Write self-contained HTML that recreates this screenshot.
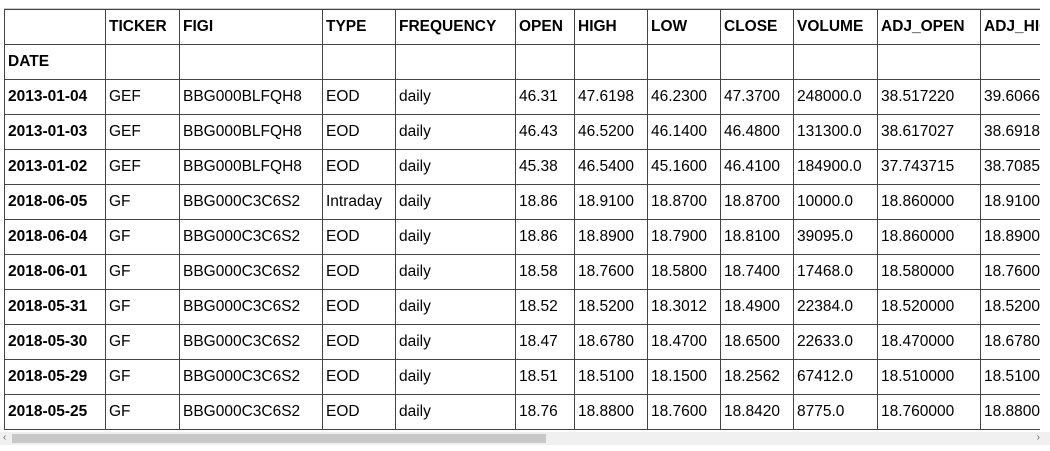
<!DOCTYPE html>
<html><head><meta charset="utf-8"><style>
body{margin:0;background:#fff;width:1050px;height:451px;overflow:hidden;font-family:"Liberation Sans",Arial,sans-serif;}
#wrap{position:absolute;left:4px;top:8px;width:1036px;height:424px;overflow:hidden;border-top:1px solid #ccc;}
table{border-collapse:collapse;table-layout:fixed;width:1076px;font-size:15.5px;color:#000;}
td,th{border:1px solid #444;height:34px;padding:0 3px;white-space:nowrap;overflow:hidden;text-align:left;}
th{font-weight:bold;}
#sb{position:absolute;left:0;top:432px;width:1050px;height:13px;background:#f0f0f0;}
#thumb{position:absolute;left:12px;top:2px;width:534px;height:9px;background:#c8c8c8;}
.arr{position:absolute;top:0;font-size:10px;color:#666;}
</style></head><body>
<div id="wrap">
<table>
<colgroup><col style="width:101px"><col style="width:74px"><col style="width:143px"><col style="width:73px"><col style="width:120px"><col style="width:59px"><col style="width:73px"><col style="width:73px"><col style="width:73px"><col style="width:84px"><col style="width:103px"><col style="width:100px"></colgroup>
<tr><th></th><th>TICKER</th><th>FIGI</th><th>TYPE</th><th>FREQUENCY</th><th>OPEN</th><th>HIGH</th><th>LOW</th><th>CLOSE</th><th>VOLUME</th><th>ADJ_OPEN</th><th>ADJ_HIGH</th></tr>
<tr><th>DATE</th><td></td><td></td><td></td><td></td><td></td><td></td><td></td><td></td><td></td><td></td><td></td></tr>
<tr><th>2013-01-04</th><td>GEF</td><td>BBG000BLFQH8</td><td>EOD</td><td>daily</td><td>46.31</td><td>47.6198</td><td>46.2300</td><td>47.3700</td><td>248000.0</td><td>38.517220</td><td>39.606600</td></tr>
<tr><th>2013-01-03</th><td>GEF</td><td>BBG000BLFQH8</td><td>EOD</td><td>daily</td><td>46.43</td><td>46.5200</td><td>46.1400</td><td>46.4800</td><td>131300.0</td><td>38.617027</td><td>38.691800</td></tr>
<tr><th>2013-01-02</th><td>GEF</td><td>BBG000BLFQH8</td><td>EOD</td><td>daily</td><td>45.38</td><td>46.5400</td><td>45.1600</td><td>46.4100</td><td>184900.0</td><td>37.743715</td><td>38.708500</td></tr>
<tr><th>2018-06-05</th><td>GF</td><td>BBG000C3C6S2</td><td>Intraday</td><td>daily</td><td>18.86</td><td>18.9100</td><td>18.8700</td><td>18.8700</td><td>10000.0</td><td>18.860000</td><td>18.910000</td></tr>
<tr><th>2018-06-04</th><td>GF</td><td>BBG000C3C6S2</td><td>EOD</td><td>daily</td><td>18.86</td><td>18.8900</td><td>18.7900</td><td>18.8100</td><td>39095.0</td><td>18.860000</td><td>18.890000</td></tr>
<tr><th>2018-06-01</th><td>GF</td><td>BBG000C3C6S2</td><td>EOD</td><td>daily</td><td>18.58</td><td>18.7600</td><td>18.5800</td><td>18.7400</td><td>17468.0</td><td>18.580000</td><td>18.760000</td></tr>
<tr><th>2018-05-31</th><td>GF</td><td>BBG000C3C6S2</td><td>EOD</td><td>daily</td><td>18.52</td><td>18.5200</td><td>18.3012</td><td>18.4900</td><td>22384.0</td><td>18.520000</td><td>18.520000</td></tr>
<tr><th>2018-05-30</th><td>GF</td><td>BBG000C3C6S2</td><td>EOD</td><td>daily</td><td>18.47</td><td>18.6780</td><td>18.4700</td><td>18.6500</td><td>22633.0</td><td>18.470000</td><td>18.678000</td></tr>
<tr><th>2018-05-29</th><td>GF</td><td>BBG000C3C6S2</td><td>EOD</td><td>daily</td><td>18.51</td><td>18.5100</td><td>18.1500</td><td>18.2562</td><td>67412.0</td><td>18.510000</td><td>18.510000</td></tr>
<tr><th>2018-05-25</th><td>GF</td><td>BBG000C3C6S2</td><td>EOD</td><td>daily</td><td>18.76</td><td>18.8800</td><td>18.7600</td><td>18.8420</td><td>8775.0</td><td>18.760000</td><td>18.880000</td></tr>
</table>
</div>
<div id="sb">
<span class="arr" style="left:3px">‹</span>
<div id="thumb"></div>
<span class="arr" style="right:10px">›</span>
</div>
</body></html>
